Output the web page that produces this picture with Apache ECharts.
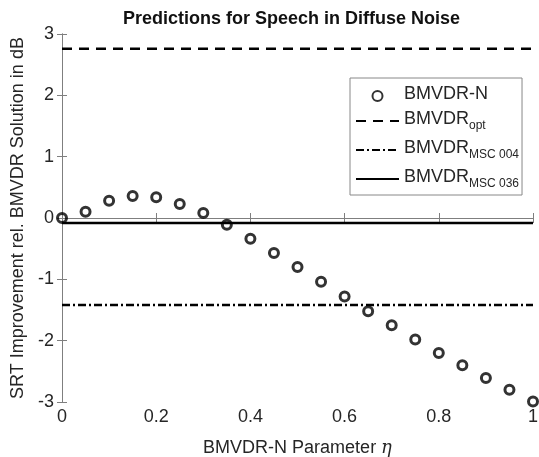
<!DOCTYPE html>
<html>
<head>
<meta charset="utf-8">
<script src="https://cdn.jsdelivr.net/npm/echarts@6/dist/echarts.min.js"></script>
<style>
  html, body { margin: 0; padding: 0; background: #fff; }
  #chart { width: 539px; height: 457px; }
</style>
</head>
<body>
<div id="chart"></div>
<script>
const etaValues = [0, 0.05, 0.1, 0.15, 0.2, 0.25, 0.3, 0.35, 0.4, 0.45, 0.5,
  0.55, 0.6, 0.65, 0.7, 0.75, 0.8, 0.85, 0.9, 0.95, 1];
const bmvdrN = [0, 0.1, 0.28, 0.36, 0.34, 0.23, 0.08, -0.11, -0.34, -0.57, -0.8,
  -1.04, -1.28, -1.52, -1.75, -1.98, -2.2, -2.4, -2.61, -2.8, -2.99];
const lineRange = [0, 1];
const bmvdrOpt = 2.76;
const bmvdrMsc004 = -1.42;
const bmvdrMsc036 = -0.08;

const legendLabels = {
  "BMVDR-N": "{main|BMVDR-N}",
  "BMVDR_opt": "{main|BMVDR}{sub|opt}",
  "BMVDR_MSC004": "{main|BMVDR}{sub|MSC 004}",
  "BMVDR_MSC036": "{main|BMVDR}{sub|MSC 036}",
};

const FONT = "Liberation Sans, Arial, sans-serif";
const AXIS_GRAY = "#7f7f7f";
const TEXT = "#262626";

function flatLine(value) {
  return lineRange.map((x) => [x, value]);
}

const chart = echarts.init(document.querySelector("#chart"), null, { renderer: "canvas" });

const hiddenAxis = {
  min: 0,
  axisLine: { show: true, lineStyle: { color: AXIS_GRAY, width: 1 } },
  axisTick: { show: true, inside: true, length: 5, lineStyle: { color: AXIS_GRAY } },
  axisLabel: { show: false },
  splitLine: { show: false },
};

// line entries only show the stroke, no marker in the middle
const noMarker = { opacity: 0 };

chart.setOption({
  animation: false,
  textStyle: { fontFamily: FONT },
  title: {
    text: "Predictions for Speech in Diffuse Noise",
    left: 123,
    top: 10,
    padding: 0,
    textStyle: { fontFamily: FONT, fontSize: 18, fontWeight: "bold", color: "#111" },
  },
  grid: { left: 62, right: 6, top: 34, bottom: 55, outerBoundsMode: "none" },
  legend: {
    orient: "vertical",
    left: 350,
    top: 78,
    padding: [7, 3, 5, 5],
    itemGap: 7,
    itemWidth: 43,
    itemHeight: 10,
    borderColor: "#888",
    borderWidth: 1,
    backgroundColor: "#fff",
    formatter: (name) => legendLabels[name],
    textStyle: {
      color: TEXT,
      fontFamily: FONT,
      rich: {
        main: { fontFamily: FONT, fontSize: 18, color: TEXT, lineHeight: 22, verticalAlign: "top" },
        sub: { fontFamily: FONT, fontSize: 12, color: TEXT, padding: [10, 0, 0, 0], verticalAlign: "bottom" },
      },
    },
    data: [
      { name: "BMVDR-N" },
      { name: "BMVDR_opt", itemStyle: noMarker },
      { name: "BMVDR_MSC004", itemStyle: noMarker },
      { name: "BMVDR_MSC036", itemStyle: noMarker },
    ],
  },
  xAxis: [
    {
      type: "value",
      min: 0,
      max: 1,
      interval: 0.2,
      name: "BMVDR-N Parameter {eta|η}",
      nameLocation: "middle",
      nameGap: 37,
      nameTextStyle: {
        fontFamily: FONT,
        fontSize: 18,
        color: TEXT,
        rich: {
          eta: { fontFamily: "DejaVu Serif, Liberation Serif, serif", fontStyle: "italic", fontSize: 18, color: TEXT },
        },
      },
      axisLine: { show: true, lineStyle: { color: AXIS_GRAY, width: 1 } },
      axisTick: { show: true, inside: true, length: 5, lineStyle: { color: AXIS_GRAY } },
      axisLabel: { color: TEXT, fontSize: 18, fontFamily: FONT, margin: 6 },
      splitLine: { show: false },
    },
    Object.assign({}, hiddenAxis, { type: "value", position: "top", max: 1, interval: 0.2 }),
  ],
  yAxis: [
    {
      type: "value",
      min: -3,
      max: 3,
      interval: 1,
      name: "SRT Improvement rel. BMVDR Solution in dB",
      nameLocation: "middle",
      nameGap: 27,
      nameTextStyle: { fontFamily: FONT, fontSize: 18, color: TEXT },
      axisLine: { show: true, lineStyle: { color: AXIS_GRAY, width: 1 } },
      axisTick: { show: true, inside: true, length: 5, lineStyle: { color: AXIS_GRAY } },
      axisLabel: { color: TEXT, fontSize: 18, fontFamily: FONT, margin: 8 },
      splitLine: { show: false },
    },
    Object.assign({}, hiddenAxis, { type: "value", position: "right", min: -3, max: 3, interval: 1 }),
  ],
  series: [
    {
      name: "BMVDR_opt",
      type: "line",
      data: flatLine(bmvdrOpt),
      symbol: "none",
      lineStyle: { color: "#000", width: 2.5, type: [10, 7] },
      itemStyle: { color: "#000" },
      z: 2,
    },
    {
      name: "BMVDR_MSC004",
      type: "line",
      data: flatLine(bmvdrMsc004),
      symbol: "none",
      lineStyle: { color: "#000", width: 2.5, type: [8, 3, 2, 3] },
      itemStyle: { color: "#000" },
      z: 2,
    },
    {
      name: "BMVDR_MSC036",
      type: "line",
      data: flatLine(bmvdrMsc036),
      symbol: "none",
      lineStyle: { color: "#000", width: 2.5, type: "solid" },
      itemStyle: { color: "#000" },
      z: 2,
    },
    {
      name: "BMVDR-N",
      type: "scatter",
      data: etaValues.map((x, i) => [x, bmvdrN[i]]),
      symbol: "circle",
      symbolSize: 9,
      itemStyle: { color: "rgba(0,0,0,0)", borderColor: "#000", borderWidth: 3 },
      clip: false,
      z: 3,
    },
  ],
});
</script>
</body>
</html>
